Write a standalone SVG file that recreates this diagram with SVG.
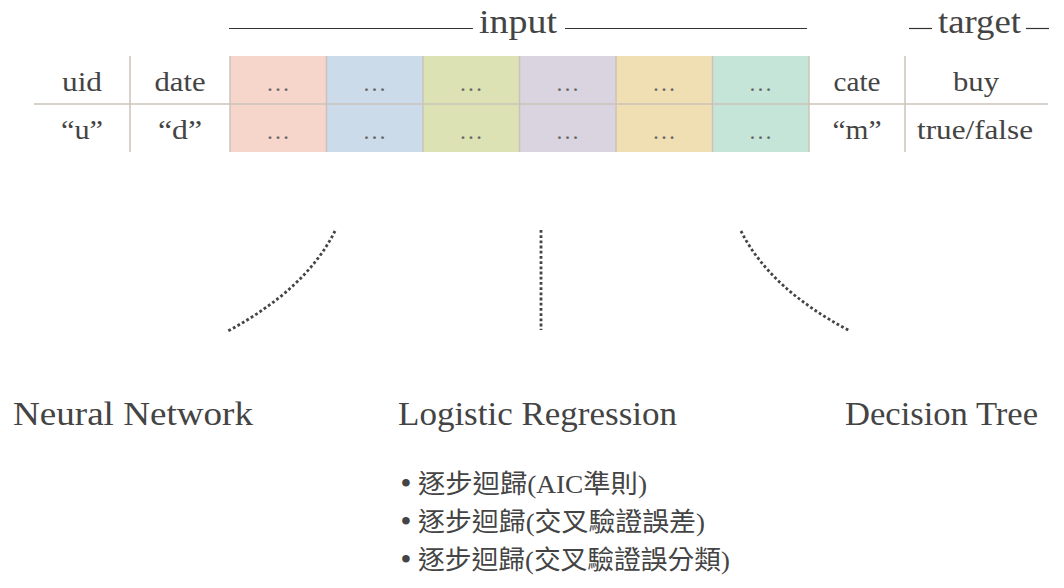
<svg xmlns="http://www.w3.org/2000/svg" width="1064" height="588" viewBox="0 0 1064 588">
<style>
.t{font-family:"Liberation Serif","DejaVu Serif",serif;fill:#444;}
.lbl{font-size:28px;text-anchor:middle;}
.ttl{font-size:33px;}
.ell{font-family:"Liberation Serif","DejaVu Serif",serif;font-size:24px;fill:#666;text-anchor:middle;}
.grid{stroke:#cbc3bb;stroke-width:1.5;fill:none;}
.hdr{stroke:#333;stroke-width:1.2;}
.dot{fill:none;stroke:#444;stroke-width:2.8;stroke-dasharray:2.8 2.4;}
.cjk{font-family:"Liberation Serif","Noto Sans CJK TC",sans-serif;font-size:26px;fill:#444;}
.bul{font-family:"DejaVu Serif",serif;font-size:26px;fill:#444;text-anchor:middle;}
</style>
<rect width="1064" height="588" fill="#fff"/>

<g id="header">
  <line class="hdr" x1="229" y1="28.5" x2="473" y2="28.5"/>
  <text class="t ttl" x="479" y="33" textLength="78" lengthAdjust="spacingAndGlyphs">input</text>
  <line class="hdr" x1="565" y1="28.5" x2="807" y2="28.5"/>
  <line class="hdr" x1="909" y1="28.5" x2="932" y2="28.5"/>
  <text class="t ttl" x="938" y="33" textLength="83" lengthAdjust="spacingAndGlyphs">target</text>
  <line class="hdr" x1="1026" y1="28.5" x2="1049" y2="28.5"/>
</g>

<g id="table">
  <rect x="230" y="56" width="96.5" height="96" fill="#f6d5cb"/>
  <rect x="326.5" y="56" width="96.5" height="96" fill="#cbdbea"/>
  <rect x="423" y="56" width="96.5" height="96" fill="#dce2b4"/>
  <rect x="519.5" y="56" width="96.5" height="96" fill="#d9d4e0"/>
  <rect x="616" y="56" width="96.5" height="96" fill="#f1dfb4"/>
  <rect x="712.5" y="56" width="96.5" height="96" fill="#c5e5d8"/>
  <line class="grid" x1="34" y1="104" x2="1048" y2="104"/>
  <line class="grid" x1="130" y1="56" x2="130" y2="152"/>
  <line class="grid" x1="230" y1="56" x2="230" y2="152"/>
  <line class="grid" x1="326.5" y1="56" x2="326.5" y2="152"/>
  <line class="grid" x1="423" y1="56" x2="423" y2="152"/>
  <line class="grid" x1="519.5" y1="56" x2="519.5" y2="152"/>
  <line class="grid" x1="616" y1="56" x2="616" y2="152"/>
  <line class="grid" x1="712.5" y1="56" x2="712.5" y2="152"/>
  <line class="grid" x1="809" y1="56" x2="809" y2="152"/>
  <line class="grid" x1="905" y1="56" x2="905" y2="152"/>

  <text class="t lbl" x="82" y="91" textLength="40" lengthAdjust="spacingAndGlyphs">uid</text>
  <text class="t lbl" x="180" y="91" textLength="51" lengthAdjust="spacingAndGlyphs">date</text>
  <text class="t lbl" x="857" y="91" textLength="47" lengthAdjust="spacingAndGlyphs">cate</text>
  <text class="t lbl" x="976" y="91" textLength="46" lengthAdjust="spacingAndGlyphs">buy</text>
  <text class="t lbl" x="82" y="139" textLength="42" lengthAdjust="spacingAndGlyphs">“u”</text>
  <text class="t lbl" x="180" y="139" textLength="44" lengthAdjust="spacingAndGlyphs">“d”</text>
  <text class="t lbl" x="857" y="139" textLength="49" lengthAdjust="spacingAndGlyphs">“m”</text>
  <text class="t lbl" x="975" y="139" textLength="116" lengthAdjust="spacingAndGlyphs">true/false</text>

  <text class="ell" x="278" y="91">…</text>
  <text class="ell" x="374.5" y="91">…</text>
  <text class="ell" x="471" y="91">…</text>
  <text class="ell" x="567.5" y="91">…</text>
  <text class="ell" x="664" y="91">…</text>
  <text class="ell" x="760.5" y="91">…</text>
  <text class="ell" x="278" y="139">…</text>
  <text class="ell" x="374.5" y="139">…</text>
  <text class="ell" x="471" y="139">…</text>
  <text class="ell" x="567.5" y="139">…</text>
  <text class="ell" x="664" y="139">…</text>
  <text class="ell" x="760.5" y="139">…</text>
</g>

<g id="connectors">
  <path class="dot" d="M335,231 Q306,289 228,331"/>
  <line class="dot" x1="541" y1="230" x2="541" y2="330"/>
  <path class="dot" d="M741,231 Q770,289 850,331"/>
</g>

<g id="neural-network">
  <text class="t ttl" x="13" y="425" textLength="240" lengthAdjust="spacingAndGlyphs">Neural Network</text>
</g>
<g id="logistic-regression">
  <text class="t ttl" x="398" y="425" textLength="279" lengthAdjust="spacingAndGlyphs">Logistic Regression</text>
  <text class="bul" x="406" y="493">•</text>
  <text class="cjk" x="418" y="493" textLength="229" lengthAdjust="spacingAndGlyphs">逐步迴歸(AIC準則)</text>
  <text class="bul" x="406" y="531">•</text>
  <text class="cjk" x="418" y="531" textLength="287" lengthAdjust="spacingAndGlyphs">逐步迴歸(交叉驗證誤差)</text>
  <text class="bul" x="406" y="569">•</text>
  <text class="cjk" x="418" y="569" textLength="312" lengthAdjust="spacingAndGlyphs">逐步迴歸(交叉驗證誤分類)</text>
</g>
<g id="decision-tree">
  <text class="t ttl" x="845" y="425" textLength="193" lengthAdjust="spacingAndGlyphs">Decision Tree</text>
</g>
</svg>
